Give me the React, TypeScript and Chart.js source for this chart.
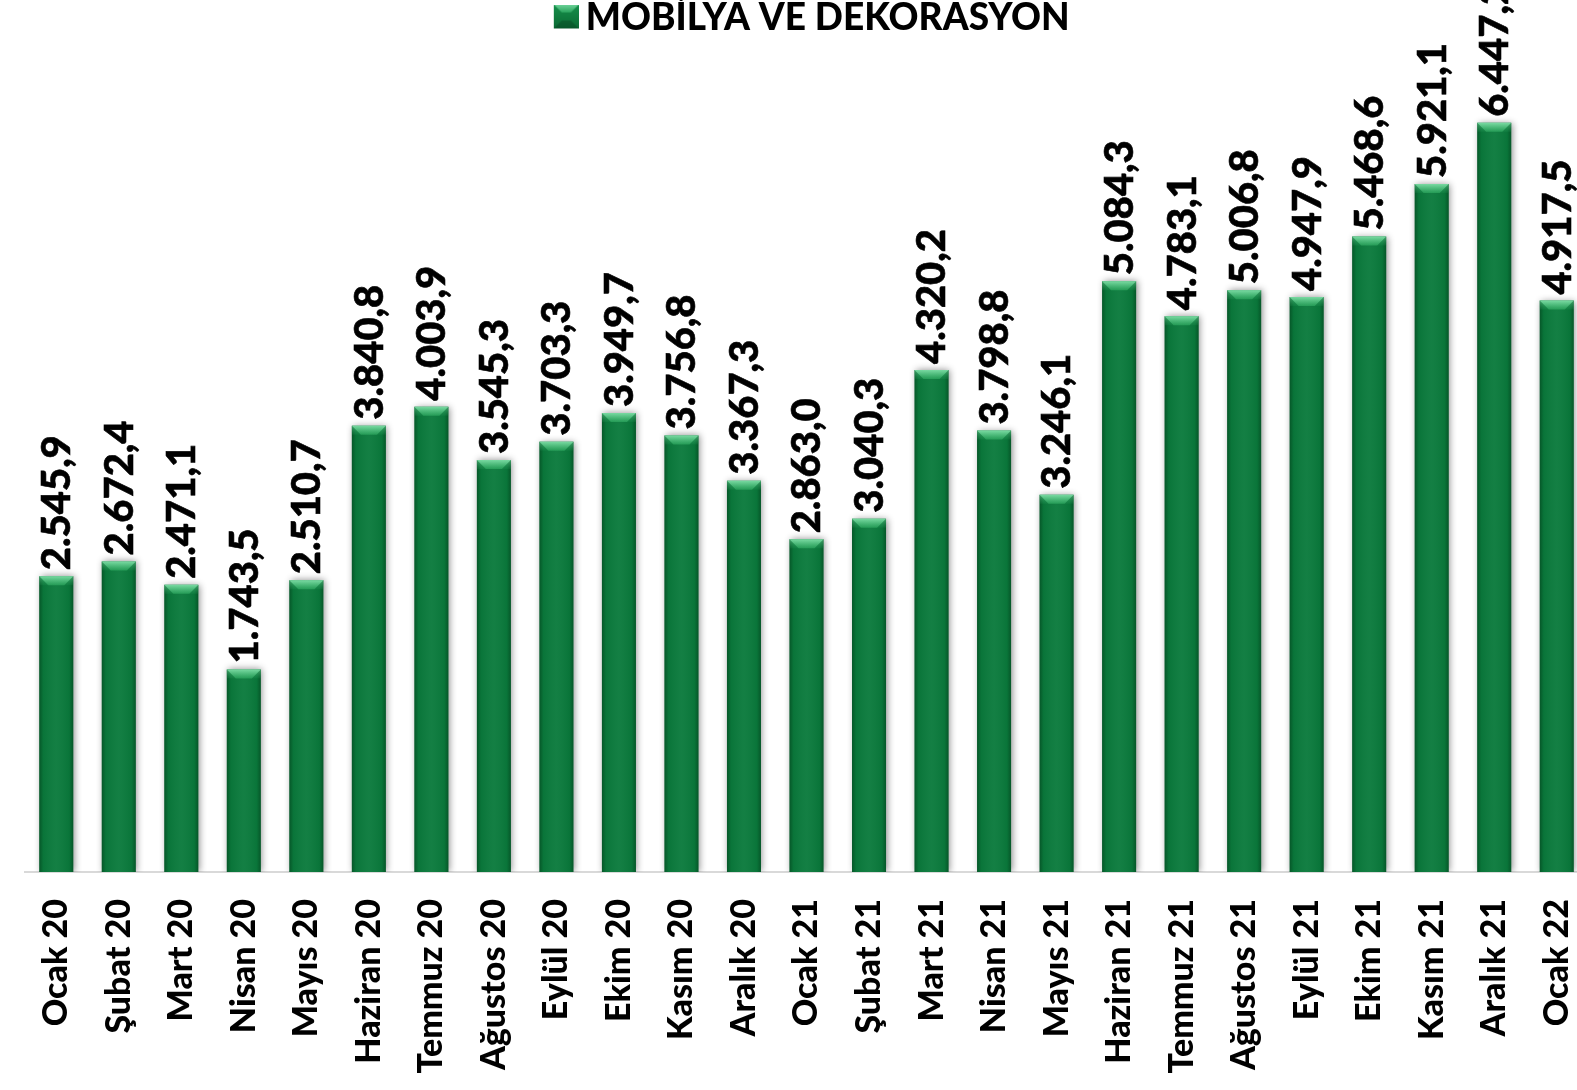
import React, { useEffect, useRef } from "react";
import { Chart, registerables } from "chart.js";

Chart.register(...registerables);

const categories = [
  "Ocak 20", "Şubat 20", "Mart 20", "Nisan 20", "Mayıs 20", "Haziran 20",
  "Temmuz 20", "Ağustos 20", "Eylül 20", "Ekim 20", "Kasım 20", "Aralık 20",
  "Ocak 21", "Şubat 21", "Mart 21", "Nisan 21", "Mayıs 21", "Haziran 21",
  "Temmuz 21", "Ağustos 21", "Eylül 21", "Ekim 21", "Kasım 21", "Aralık 21",
  "Ocak 22",
];

const values = [
  2545.9, 2672.4, 2471.1, 1743.5, 2510.7, 3840.8,
  4003.9, 3545.3, 3703.3, 3949.7, 3756.8, 3367.3,
  2863.0, 3040.3, 4320.2, 3798.8, 3246.1, 5084.3,
  4783.1, 5006.8, 4947.9, 5468.6, 5921.1, 6447.2,
  4917.5,
];

const seriesLabel = "MOBİLYA VE DEKORASYON";
const yAxisMin = 0;
const yAxisMax = 7100;

const BAR_GREEN = "#0a7a3c";
const FONT_FAMILY = "Lato, 'Open Sans', sans-serif";

function formatTR(v: number): string {
  const [intPart, decPart] = v.toFixed(1).split(".");
  return intPart.replace(/\B(?=(\d{3})+(?!\d))/g, ".") + "," + decPart;
}

function makeLegendSwatch(): HTMLCanvasElement {
  const padL = 22;
  const c = document.createElement("canvas");
  c.width = 25 + padL;
  c.height = 28;
  const g = c.getContext("2d")!;
  g.translate(padL, 0);
  const w = 25;
  const h = 24;
  const base = g.createLinearGradient(0, 0, 0, h);
  base.addColorStop(0, "#17904b");
  base.addColorStop(1, "#0a6a34");
  g.fillStyle = base;
  g.fillRect(0, 0, w, h);
  const d = 8;
  const tg = g.createLinearGradient(0, 0, 0, d);
  tg.addColorStop(0, "#6fd39a");
  tg.addColorStop(1, "#2aa35d");
  g.fillStyle = tg;
  g.beginPath();
  g.moveTo(0, 0);
  g.lineTo(w, 0);
  g.lineTo(w - d, d);
  g.lineTo(d, d);
  g.closePath();
  g.fill();
  g.fillStyle = "rgba(0,0,0,0.18)";
  g.beginPath();
  g.moveTo(0, h);
  g.lineTo(w, h);
  g.lineTo(w - d, h - d);
  g.lineTo(d, h - d);
  g.closePath();
  g.fill();
  return c;
}

const barStyling = {
  id: "barStyling",
  beforeDatasetDraw(chart: any) {
    const ctx = chart.ctx;
    ctx.save();
    ctx.shadowColor = "rgba(0,0,0,0.45)";
    ctx.shadowBlur = 7;
    ctx.shadowOffsetX = 1.5;
    ctx.shadowOffsetY = 0;
  },
  afterDatasetDraw(chart: any, args: any) {
    const ctx = chart.ctx;
    ctx.restore();
    ctx.save();
    args.meta.data.forEach((el: any) => {
      const { x, y, base, width } = el.getProps(["x", "y", "base", "width"], true);
      const left = x - width / 2;
      const h = base - y;
      const hg = ctx.createLinearGradient(left, 0, left + width, 0);
      hg.addColorStop(0, "rgba(0,35,12,0.40)");
      hg.addColorStop(0.12, "rgba(0,35,12,0.06)");
      hg.addColorStop(0.5, "rgba(255,255,255,0.04)");
      hg.addColorStop(0.88, "rgba(0,35,12,0.06)");
      hg.addColorStop(1, "rgba(0,35,12,0.40)");
      ctx.fillStyle = hg;
      ctx.fillRect(left, y, width, h);
      const d = Math.min(9, width * 0.27, h / 2);
      const band = ctx.createLinearGradient(0, y, 0, y + d);
      band.addColorStop(0, "rgba(120,220,160,0.55)");
      band.addColorStop(1, "rgba(60,180,110,0.10)");
      ctx.fillStyle = band;
      ctx.fillRect(left, y, width, d);
      const tg = ctx.createLinearGradient(0, y, 0, y + d);
      tg.addColorStop(0, "rgba(130,225,170,0.85)");
      tg.addColorStop(1, "rgba(50,175,100,0.55)");
      ctx.fillStyle = tg;
      ctx.beginPath();
      ctx.moveTo(left, y);
      ctx.lineTo(left + width, y);
      ctx.lineTo(left + width - d, y + d);
      ctx.lineTo(left + d, y + d);
      ctx.closePath();
      ctx.fill();
    });
    ctx.restore();
  },
};

const valueLabels = {
  id: "valueLabels",
  afterDatasetsDraw(chart: any) {
    const ctx = chart.ctx;
    const meta = chart.getDatasetMeta(0);
    const data = chart.data.datasets[0].data as number[];
    ctx.save();
    ctx.font = `900 40px ${FONT_FAMILY}`;
    ctx.fillStyle = "#000";
    ctx.strokeStyle = "#000";
    ctx.lineWidth = 0.6;
    ctx.textAlign = "left";
    ctx.textBaseline = "middle";
    meta.data.forEach((el: any, i: number) => {
      const { x, y } = el.getProps(["x", "y"], true);
      ctx.save();
      ctx.translate(x + 1, y - 6);
      ctx.rotate(-Math.PI / 2);
      const t = formatTR(data[i]);
      ctx.fillText(t, 0, 0);
      ctx.strokeText(t, 0, 0);
      ctx.restore();
    });
    ctx.restore();
  },
};

export default function App() {
  const ref = useRef<HTMLCanvasElement | null>(null);

  useEffect(() => {
    let chart: Chart | null = null;
    let cancelled = false;
    const build = () => {
      if (cancelled || !ref.current) return;
      const swatch = makeLegendSwatch();
      chart = new Chart(ref.current, {
        type: "bar",
        data: {
          labels: categories,
          datasets: [
            {
              label: seriesLabel,
              data: values,
              backgroundColor: BAR_GREEN,
              borderWidth: 0,
              barPercentage: 0.544,
              categoryPercentage: 1,
            },
          ],
        },
        options: {
          responsive: false,
          animation: false,
          layout: { padding: { left: 25, right: 12, top: 0, bottom: 0 } },
          plugins: {
            legend: {
              display: true,
              position: "top",
              align: "center",
              labels: {
                usePointStyle: true,
                pointStyle: swatch as any,
                pointStyleWidth: 24,
                padding: 0,
                color: "#000",
                font: { family: FONT_FAMILY, size: 37, weight: 900 as any },
              },
            },
            tooltip: { enabled: false },
          },
          scales: {
            x: {
              offset: true,
              grid: { display: false },
              border: { display: true, color: "#d9d9d9", width: 2 },
              ticks: {
                autoSkip: false,
                maxRotation: 90,
                minRotation: 90,
                padding: 19,
                color: "#000",
                font: { family: FONT_FAMILY, size: 34, weight: 900 as any },
              },
              afterFit: (s: any) => {
                s.height = 218;
                s.paddingLeft = 0;
                s.paddingRight = 0;
              },
            },
            y: { display: false, min: yAxisMin, max: yAxisMax },
          },
        },
        plugins: [barStyling, valueLabels],
      });
    };
    const fontsApi = (document as any).fonts;
    if (fontsApi && fontsApi.load) {
      Promise.all([
        fontsApi.load(`900 40px Lato`),
        fontsApi.load(`bold 34px Lato`),
      ]).then(build, build);
    } else {
      build();
    }
    return () => {
      cancelled = true;
      if (chart) chart.destroy();
    };
  }, []);

  return (
    <div
      style={{
        position: "fixed",
        left: 0,
        top: 0,
        width: 1577,
        height: 1090,
        overflow: "hidden",
        background: "#fff",
      }}
    >
      <canvas ref={ref} width={1600} height={1090} style={{ display: "block" }} />
    </div>
  );
}
